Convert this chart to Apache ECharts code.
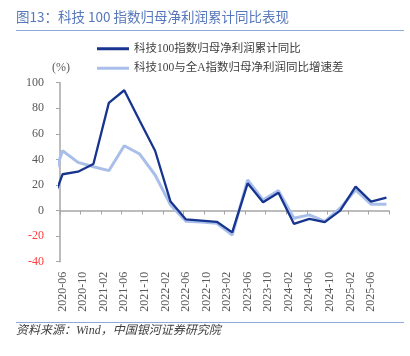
<!DOCTYPE html>
<html><head><meta charset="utf-8">
<script src="https://cdn.jsdelivr.net/npm/echarts@6/dist/echarts.min.js"></script>
<style>html,body{margin:0;padding:0;background:#fff}#c{width:410px;height:356px}</style>
</head><body><div id="c"></div>
<script>
// Quarter-end dates (first point lies before the axis start and is clipped)
const quarters = ['2020-03','2020-06','2020-09','2020-12','2021-03','2021-06','2021-09','2021-12',
  '2022-03','2022-06','2022-09','2022-12','2023-03','2023-06','2023-09','2023-12',
  '2024-03','2024-06','2024-09','2024-12','2025-03','2025-06','2025-09'];
// 科技100指数归母净利润累计同比 (%)
const techProfitYoY = [-4, 28.4, 30.4, 36.4, 84.2, 94.1, 70.2, 46.8,
  7.0, -6.9, -7.8, -8.8, -17.1, 21.3, 6.5, 14.0,
  -10.4, -6.5, -9.1, 0.0, 18.7, 7.0, 10.1];
// 科技100与全A指数归母净利润同比增速差 (%)
const techVsAllAGap = [12, 46.8, 37.7, 34.3, 31.2, 50.7, 44.2, 27.8,
  4.4, -8.3, -9.0, -10.0, -19.2, 23.9, 8.3, 15.6,
  -6.0, -3.4, -8.5, 1.8, 16.1, 5.0, 5.0];
const xTickLabels = ['2020-06','2020-10','2021-02','2021-06','2021-10','2022-02','2022-06','2022-10',
  '2023-02','2023-06','2023-10','2024-02','2024-06','2024-10','2025-02','2025-06'];
const yTicks = [-40, -20, 0, 20, 40, 60, 80, 100];
const seriesNames = ['科技100指数归母净利润累计同比', '科技100与全A指数归母净利润同比增速差'];

// monthly slots starting at 2020-06; 4 slots per labelled tick
const monthSlots = [];
xTickLabels.forEach(l => { monthSlots.push(l, '', '', ''); });
const startY = 2020, startM = 6;
const slotOf = d => { const [y, m] = d.split('-').map(Number); return (y - startY) * 12 + (m - startM) + 0.5; };
const pair = arr => quarters.map((q, i) => [slotOf(q), arr[i]]);

const gray = '#595959', axisGray = '#a6a6a6';
const serif = '"Liberation Serif", "Noto Sans CJK SC", serif';
const chart = echarts.init(document.getElementById('c'), null, {renderer: 'canvas'});
chart.setOption({
  animation: false,
  backgroundColor: '#fff',
  grid: {left: 60, right: 21, top: 82.7, bottom: 94.3, containLabel: false},
  legend: {
    orient: 'vertical', left: 97, top: 43, padding: 0, itemGap: 8,
    itemWidth: 32, itemHeight: 3, icon: 'rect',
    data: seriesNames,
    textStyle: {fontSize: 11.5, color: '#404040', fontFamily: serif}
  },
  xAxis: [{
    type: 'value', min: 0, max: monthSlots.length, interval: 4,
    axisLine: {show: true, onZero: true, lineStyle: {color: axisGray, width: 1.5}},
    axisTick: {show: true, length: 4, lineStyle: {color: axisGray}},
    axisLabel: {show: false}, splitLine: {show: false}
  }, {
    type: 'category', data: monthSlots, boundaryGap: true, position: 'bottom',
    axisLine: {show: false, onZero: false}, axisTick: {show: false}, splitLine: {show: false},
    axisLabel: {interval: 3, rotate: 90, margin: 10, color: gray, fontSize: 12, fontFamily: serif}
  }],
  yAxis: {
    type: 'value', min: yTicks[0], max: yTicks[yTicks.length - 1], interval: 20,
    axisLine: {show: true, onZero: false, lineStyle: {color: axisGray, width: 1.5}},
    axisTick: {show: true, length: 4, lineStyle: {color: axisGray}},
    splitLine: {show: false},
    axisLabel: {margin: 16, fontSize: 12, fontFamily: serif,
      color: v => (Number(v) < 0 ? '#ff3b3b' : gray)}
  },
  series: [{
    name: seriesNames[1], type: 'line', xAxisIndex: 0, data: pair(techVsAllAGap),
    symbol: 'none', z: 2, color: '#a9bfea', lineStyle: {width: 3, color: '#a9bfea'}
  }, {
    name: seriesNames[0], type: 'line', xAxisIndex: 0, data: pair(techProfitYoY),
    symbol: 'none', z: 3, color: '#17348f', lineStyle: {width: 2.3, color: '#17348f'}
  }],
  graphic: [
    {type: 'text', left: 16, top: 10, style: {text: '图13：科技 100 指数归母净利润累计同比表现', fill: '#5577bb', font: '13.5px "Noto Sans CJK SC", sans-serif'}},
    {type: 'line', shape: {x1: 16, y1: 30.5, x2: 404, y2: 30.5}, style: {stroke: '#8ea8d8', lineWidth: 1}},
    {type: 'text', left: 52, top: 62, style: {text: '(%)', fill: gray, font: '12px "Liberation Serif", serif'}},
    {type: 'line', shape: {x1: 16, y1: 322.5, x2: 404, y2: 322.5}, style: {stroke: '#8ea8d8', lineWidth: 1}},
    {type: 'text', left: 16, top: 325, style: {text: '资料来源：Wind，中国银河证券研究院', fill: '#404040', font: 'italic 12px "Liberation Serif", "Noto Sans CJK SC", serif'}}
  ]
});
</script></body></html>
